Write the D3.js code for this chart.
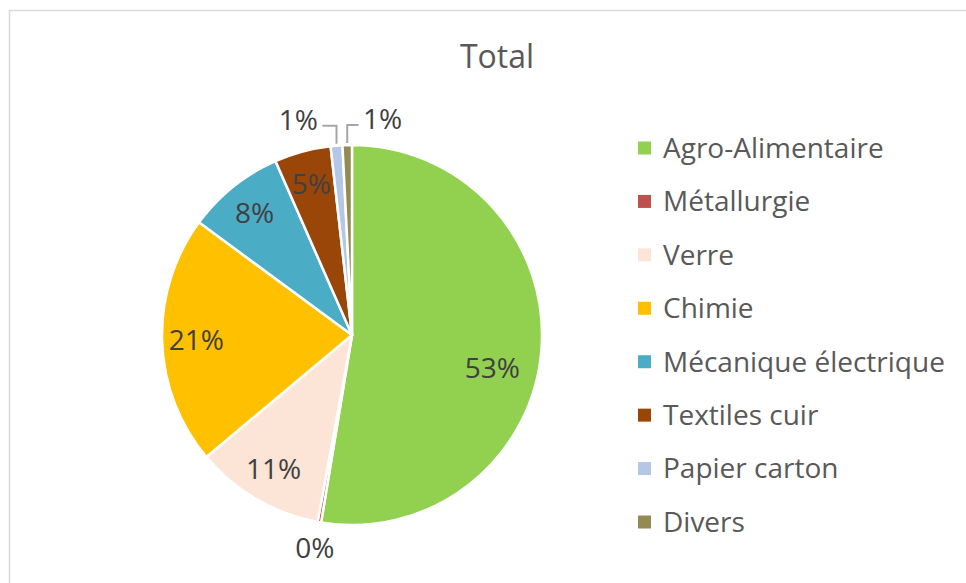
<!DOCTYPE html>
<html>
<head>
<meta charset="utf-8">
<script src="https://cdn.jsdelivr.net/npm/d3@7/dist/d3.min.js"></script>
<style>
  body { margin: 0; background: #fff; }
  text { font-family: "Open Sans", sans-serif; }
</style>
</head>
<body>
<div id="chart"></div>
<script>
const width = 966;
const height = 583;

// data
const categories = ['Agro-Alimentaire', 'Métallurgie', 'Verre', 'Chimie',
    'Mécanique électrique', 'Textiles cuir', 'Papier carton', 'Divers'];
const shares = [52.6, 0.3, 11.0, 21.2, 8.3, 4.8, 1.0, 0.8];
const shareLabels = ['53%', '0%', '11%', '21%', '8%', '5%', '1%', '1%'];
const colors = ['#92d050', '#c0504d', '#fce4d6', '#ffc000',
    '#4bacc6', '#9a4608', '#b4c7e7', '#948a54'];

const cx = 352, cy = 335, radius = 190;
// small slices get their label outside, pushed sideways like Excel does
const outside = [false, true, false, false, false, false, true, true];
const nudgeX = [-15, 0, 0, 0, 0, 0, -36, 36];
const nudgeY = [20, 0, 0, 0, 0, 0, 0, 0];
const leader = [false, false, false, false, false, false, true, true];

const svg = d3.select('#chart')
    .append('svg')
    .attr('width', width)
    .attr('height', height);

svg.append('rect')
    .attr('x', 9.5).attr('y', 10.5)
    .attr('width', width).attr('height', height)
    .style('fill', 'none')
    .style('stroke', '#d9d9d9')
    .style('stroke-width', 1.5);

svg.append('text')
    .attr('x', 497).attr('y', 57)
    .attr('dy', '0.35em')
    .attr('text-anchor', 'middle')
    .style('font-size', '32px')
    .style('fill', '#595959')
    .text('Total');

const data = categories.map((c, i) => ({ name: c, value: shares[i], label: shareLabels[i], i }));

const pie = d3.pie().sort(null).value(d => d.value);
const arcs = pie(data);

const arc = d3.arc().innerRadius(0).outerRadius(radius);
const inLabel = d3.arc().innerRadius(radius * 0.82).outerRadius(radius * 0.82);
const outLabel = d3.arc().innerRadius(radius + 26).outerRadius(radius + 26);
const edge = d3.arc().innerRadius(radius).outerRadius(radius);

const g = svg.append('g').attr('transform', `translate(${cx},${cy})`);

g.selectAll('path.slice')
    .data(arcs)
    .enter()
    .append('path')
    .attr('class', 'slice')
    .attr('d', arc)
    .style('fill', d => colors[d.data.i])
    .style('stroke', 'white')
    .style('stroke-width', 2.5)
    .style('stroke-linejoin', 'round');

function labelPos(d) {
    const i = d.data.i;
    const p = outside[i] ? outLabel.centroid(d) : inLabel.centroid(d);
    return [p[0] + nudgeX[i], p[1] + nudgeY[i]];
}

// leader lines for the pushed-aside labels
g.selectAll('path.leader')
    .data(arcs.filter(d => leader[d.data.i]))
    .enter()
    .append('path')
    .attr('class', 'leader')
    .attr('d', d => {
        const p = labelPos(d);
        const e = edge.centroid(d);
        const startX = nudgeX[d.data.i] < 0 ? p[0] + 24 : p[0] - 24;
        return `M${startX},${p[1] + 6}H${e[0]}V${e[1] - 2}`;
    })
    .style('fill', 'none')
    .style('stroke', '#a6a6a6')
    .style('stroke-width', 2);

g.selectAll('text.pct')
    .data(arcs)
    .enter()
    .append('text')
    .attr('class', 'pct')
    .attr('x', d => labelPos(d)[0])
    .attr('y', d => labelPos(d)[1])
    .attr('dy', '0.35em')
    .attr('text-anchor', 'middle')
    .style('font-size', '28px')
    .style('fill', '#404040')
    .text(d => d.data.label);

// legend
const legendY = d3.scalePoint()
    .domain(categories)
    .range([148, 522]);

const legend = svg.append('g')
    .selectAll('g')
    .data(categories)
    .enter()
    .append('g')
    .attr('transform', d => `translate(638,${legendY(d)})`);

legend.append('rect')
    .attr('x', 0).attr('y', -6.5)
    .attr('width', 13).attr('height', 13)
    .style('fill', (d, i) => colors[i]);

legend.append('text')
    .attr('x', 25)
    .attr('dy', '0.35em')
    .style('font-size', '28px')
    .style('fill', '#595959')
    .text(d => d);
</script>
</body>
</html>
